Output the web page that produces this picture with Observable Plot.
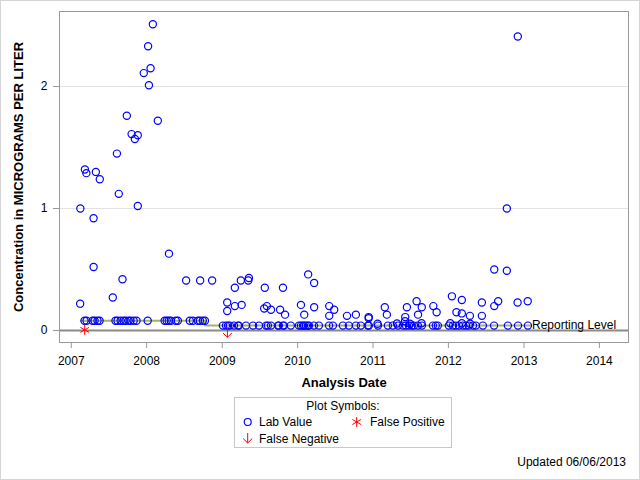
<!DOCTYPE html>
<html><head><meta charset="utf-8">
<script src="https://cdn.jsdelivr.net/npm/d3@7"></script>
<script src="https://cdn.jsdelivr.net/npm/@observablehq/plot@0.6"></script>
<style>
html,body{margin:0;padding:0;background:#fff;}
#wrap{position:relative;width:640px;height:480px;overflow:hidden;font-family:"Liberation Sans",Arial,sans-serif;color:#000;background:#fff;}
#border{position:absolute;left:0;top:0;width:640px;height:480px;box-sizing:border-box;border:1px solid #d4d4d4;pointer-events:none;}
#chart{position:absolute;left:0;top:0;}
#legend{position:absolute;left:234px;top:397px;width:218px;height:51px;box-sizing:border-box;border:1px solid #c8c8c8;font-size:12px;}
.lt{position:absolute;line-height:14px;white-space:nowrap;}
.ic{position:absolute;}
#updated{position:absolute;right:14px;top:455px;font-size:12px;line-height:14px;white-space:nowrap;}
</style></head>
<body>
<div id="wrap">
  <div id="chart"></div>
  <div id="legend">
    <div class="lt" style="left:0;right:0;top:1px;text-align:center;">Plot Symbols:</div>
    <svg class="ic" style="left:5px;top:17px" width="16" height="16"><circle cx="7.7" cy="7" r="3.5" fill="none" stroke="#0000ff" stroke-width="1.2"/></svg>
    <div class="lt" style="left:24px;top:17px;">Lab Value</div>
    <svg class="ic" style="left:114px;top:17px" width="16" height="16"><path d="M7.7,2L7.7,12M3.4,4.5L12,9.5M3.4,9.5L12,4.5" fill="none" stroke="#ff0000" stroke-width="1"/></svg>
    <div class="lt" style="left:135px;top:17px;">False Positive</div>
    <svg class="ic" style="left:5px;top:33px" width="16" height="16"><path d="M7.7,2L7.7,12M3.2,7.6L7.7,12L12.2,7.6" fill="none" stroke="#ff0000" stroke-width="1"/></svg>
    <div class="lt" style="left:24px;top:34px;">False Negative</div>
  </div>
  <div id="updated">Updated 06/06/2013</div>
  <div id="border"></div>
</div>
<script>
// ---- data ----
const yearTicks = ["2007","2008","2009","2010","2011","2012","2013","2014"];
const yTicks = [0, 1, 2];

const labDates = [
  // at reporting level 0.08
  "2007-03-06","2007-03-16","2007-04-14","2007-04-24","2007-05-08","2007-05-18","2007-08-03","2007-08-13",
  "2007-08-28","2007-09-11","2007-09-21","2007-10-05","2007-10-15","2007-10-30","2007-11-13","2008-01-06",
  "2008-03-28","2008-04-07","2008-04-17","2008-04-27","2008-05-21","2008-05-31","2008-07-28","2008-08-12",
  "2008-09-05","2008-09-15","2008-09-29","2008-10-09",
  // at reporting level 0.04
  "2009-01-04","2009-01-19","2009-01-29","2009-02-07","2009-02-27","2009-03-18","2009-03-23","2009-04-26",
  "2009-05-30","2009-06-28","2009-08-01","2009-08-10","2009-08-25","2009-09-28","2009-10-02","2009-10-22",
  "2009-10-27","2009-11-29","2010-01-07","2010-01-17","2010-01-27","2010-02-01","2010-02-10","2010-02-20",
  "2010-02-25","2010-03-21","2010-04-14","2010-06-02","2010-06-21","2010-08-08","2010-09-06","2010-10-10",
  "2010-11-03","2010-12-07","2010-12-12","2011-01-25","2011-03-14","2011-04-07","2011-05-02","2011-05-26",
  "2011-06-09","2011-06-24","2011-07-08","2011-07-18","2011-08-06","2011-08-26","2011-10-18","2011-11-01",
  "2011-11-11","2012-01-03","2012-01-23","2012-02-06","2012-02-21","2012-03-11","2012-03-26","2012-04-09",
  "2012-04-29","2012-05-13","2012-06-16","2012-08-09","2012-10-15","2012-12-03","2013-01-20",
  // detections
  "2007-02-13","2007-02-14","2007-03-08","2007-03-15","2007-04-19","2007-04-19","2007-04-30","2007-05-19",
  "2007-07-21","2007-08-10","2007-08-19","2007-09-06","2007-09-27","2007-10-20","2007-11-05","2007-11-19",
  "2007-11-19","2007-12-18","2008-01-08","2008-01-12","2008-01-20","2008-01-31","2008-02-24","2008-04-18",
  "2008-07-10","2008-09-16","2008-11-13","2009-01-25","2009-01-25","2009-03-03","2009-03-03","2009-04-01",
  "2009-04-05","2009-05-07","2009-05-10","2009-07-26","2009-08-05","2009-07-23","2009-08-25","2009-10-22",
  "2009-10-08","2009-11-01","2010-01-17","2010-02-02","2010-02-21","2010-03-22","2010-03-22","2010-06-03",
  "2010-06-27","2010-06-03","2010-08-28","2010-10-10","2010-12-11","2010-12-11","2011-01-23","2011-02-27",
  "2011-03-09","2011-04-27","2011-06-06","2011-06-05","2011-06-14","2011-06-29","2011-07-31","2011-08-07",
  "2011-08-25","2011-08-24","2011-10-20","2011-11-05","2012-01-10","2012-01-18","2012-02-09","2012-03-06",
  "2012-03-06","2012-03-06","2012-04-14","2012-04-15","2012-06-11","2012-06-11","2012-08-10","2012-08-10",
  "2012-08-29","2012-10-10","2012-10-10","2012-12-01","2012-12-02","2013-01-19"
];
const labValues = [
  0.08,0.08,0.08,0.08,0.08,0.08,0.08,0.08,
  0.08,0.08,0.08,0.08,0.08,0.08,0.08,0.08,
  0.08,0.08,0.08,0.08,0.08,0.08,0.08,0.08,
  0.08,0.08,0.08,0.08,
  0.04,0.04,0.04,0.04,0.04,0.04,0.04,0.04,
  0.04,0.04,0.04,0.04,0.04,0.04,0.04,0.04,
  0.04,0.04,0.04,0.04,0.04,0.04,0.04,0.04,
  0.04,0.04,0.04,0.04,0.04,0.04,0.04,0.04,
  0.04,0.04,0.04,0.04,0.04,0.04,0.04,0.04,
  0.04,0.04,0.04,0.04,0.04,0.04,0.04,0.04,
  0.04,0.04,0.04,0.04,0.04,0.04,0.04,0.04,
  0.04,0.04,0.04,0.04,0.04,0.04,0.04,
  0.22,1.00,1.32,1.29,0.92,0.52,1.30,1.24,
  0.27,1.45,1.12,0.42,1.76,1.61,1.57,1.60,
  1.02,2.11,2.33,2.01,2.15,2.51,1.72,0.63,
  0.41,0.41,0.41,0.23,0.16,0.35,0.20,0.41,
  0.21,0.41,0.43,0.35,0.20,0.18,0.17,0.35,
  0.17,0.13,0.21,0.13,0.46,0.39,0.19,0.20,
  0.17,0.12,0.12,0.13,0.11,0.10,0.055,0.19,
  0.13,0.057,0.11,0.076,0.19,0.055,0.24,0.13,
  0.19,0.06,0.20,0.15,0.06,0.28,0.15,0.25,
  0.14,0.06,0.12,0.055,0.23,0.12,0.50,0.20,
  0.24,0.49,1.00,0.23,2.41,0.24
];

const fpDates = ["2007-03-07"];
const fpValues = [0.005];
const fnDates = ["2009-01-26"];
const fnValues = [0];

const rlDates = ["2007-02-16", "2008-10-10", "2013-02-04"];
const rlValues = [0.08, 0.04, 0.04];
const rlLabel = "Reporting Level";

// ---- build ----
const parse = d3.utcParse("%Y-%m-%d");
const lab = labDates.map((d, i) => ({date: parse(d), value: labValues[i]}));
const fp = fpDates.map((d, i) => ({date: parse(d), value: fpValues[i]}));
const fn = fnDates.map((d, i) => ({date: parse(d), value: fnValues[i]}));
const rl = rlDates.map((d, i) => ({date: parse(d), value: rlValues[i]}));
const rlEnd = [rl[rl.length - 1]];
const xTicks = yearTicks.map(y => d3.utcParse("%Y")(y));

const asteriskSym = {draw(ctx, size) {
  const r = Math.sqrt(size / Math.PI), t = r / 2, u = r * Math.sqrt(3) / 2;
  ctx.moveTo(0, r); ctx.lineTo(0, -r);
  ctx.moveTo(-u, -t); ctx.lineTo(u, t);
  ctx.moveTo(-u, t); ctx.lineTo(u, -t);
}};
const arrowSym = {draw(ctx, size) {
  const r = Math.sqrt(size / Math.PI);
  ctx.moveTo(0, -0.5 * r); ctx.lineTo(0, 1.5 * r);
  ctx.moveTo(-r, 0.55 * r); ctx.lineTo(0, 1.5 * r); ctx.lineTo(r, 0.55 * r);
}};

const font = "'Liberation Sans', Arial, sans-serif";
const chart = Plot.plot({
  width: 640,
  height: 395,
  marginLeft: 59,
  marginRight: 12,
  marginTop: 11,
  marginBottom: 53,
  style: {fontFamily: font, fontSize: "12px", background: "transparent", color: "#000"},
  x: {type: "utc", domain: [parse("2006-11-05"), parse("2014-05-22")]},
  y: {domain: [-0.0984, 2.615]},
  marks: [
    Plot.ruleY([1, 2], {stroke: "#e3e3e3", strokeWidth: 1}),
    Plot.ruleY([0], {stroke: "#8a8a8a", strokeWidth: 2}),
    Plot.line(rl, {x: "date", y: "value", curve: "step-after", stroke: "#a2b55f", strokeWidth: 2}),
    Plot.text(rlEnd, {x: "date", y: "value", text: () => rlLabel, textAnchor: "start", dx: 1, fontSize: 12, fill: "#000"}),
    Plot.dot(lab, {x: "date", y: "value", r: 3.6, stroke: "#0000ff", strokeWidth: 1.2, fill: "none"}),
    Plot.dot(fp, {x: "date", y: "value", r: 5, symbol: asteriskSym, stroke: "#ff0000", strokeWidth: 1, fill: "none"}),
    Plot.dot(fn, {x: "date", y: "value", r: 4.5, symbol: arrowSym, stroke: "#ff0000", strokeWidth: 1, fill: "none"}),
    Plot.axisX({ticks: xTicks, tickFormat: d3.utcFormat("%Y"), tickSize: 6, tickPadding: 8, stroke: "#999", label: null, fontSize: 12}),
    Plot.axisY({ticks: yTicks, tickFormat: d => String(d), tickSize: 6, tickPadding: 6, stroke: "#999", label: null, fontSize: 12}),
    Plot.frame({stroke: "#999"}),
    Plot.text(["Analysis Date"], {frameAnchor: "bottom", dy: 44, fontWeight: "bold", fontSize: 13, fill: "#000"}),
    Plot.text(["Concentration in MICROGRAMS PER LITER"], {frameAnchor: "left", dx: -41, rotate: -90, textAnchor: "middle", fontWeight: "bold", fontSize: 13, fill: "#000"})
  ]
});
document.getElementById("chart").appendChild(chart);
</script>
</body></html>
